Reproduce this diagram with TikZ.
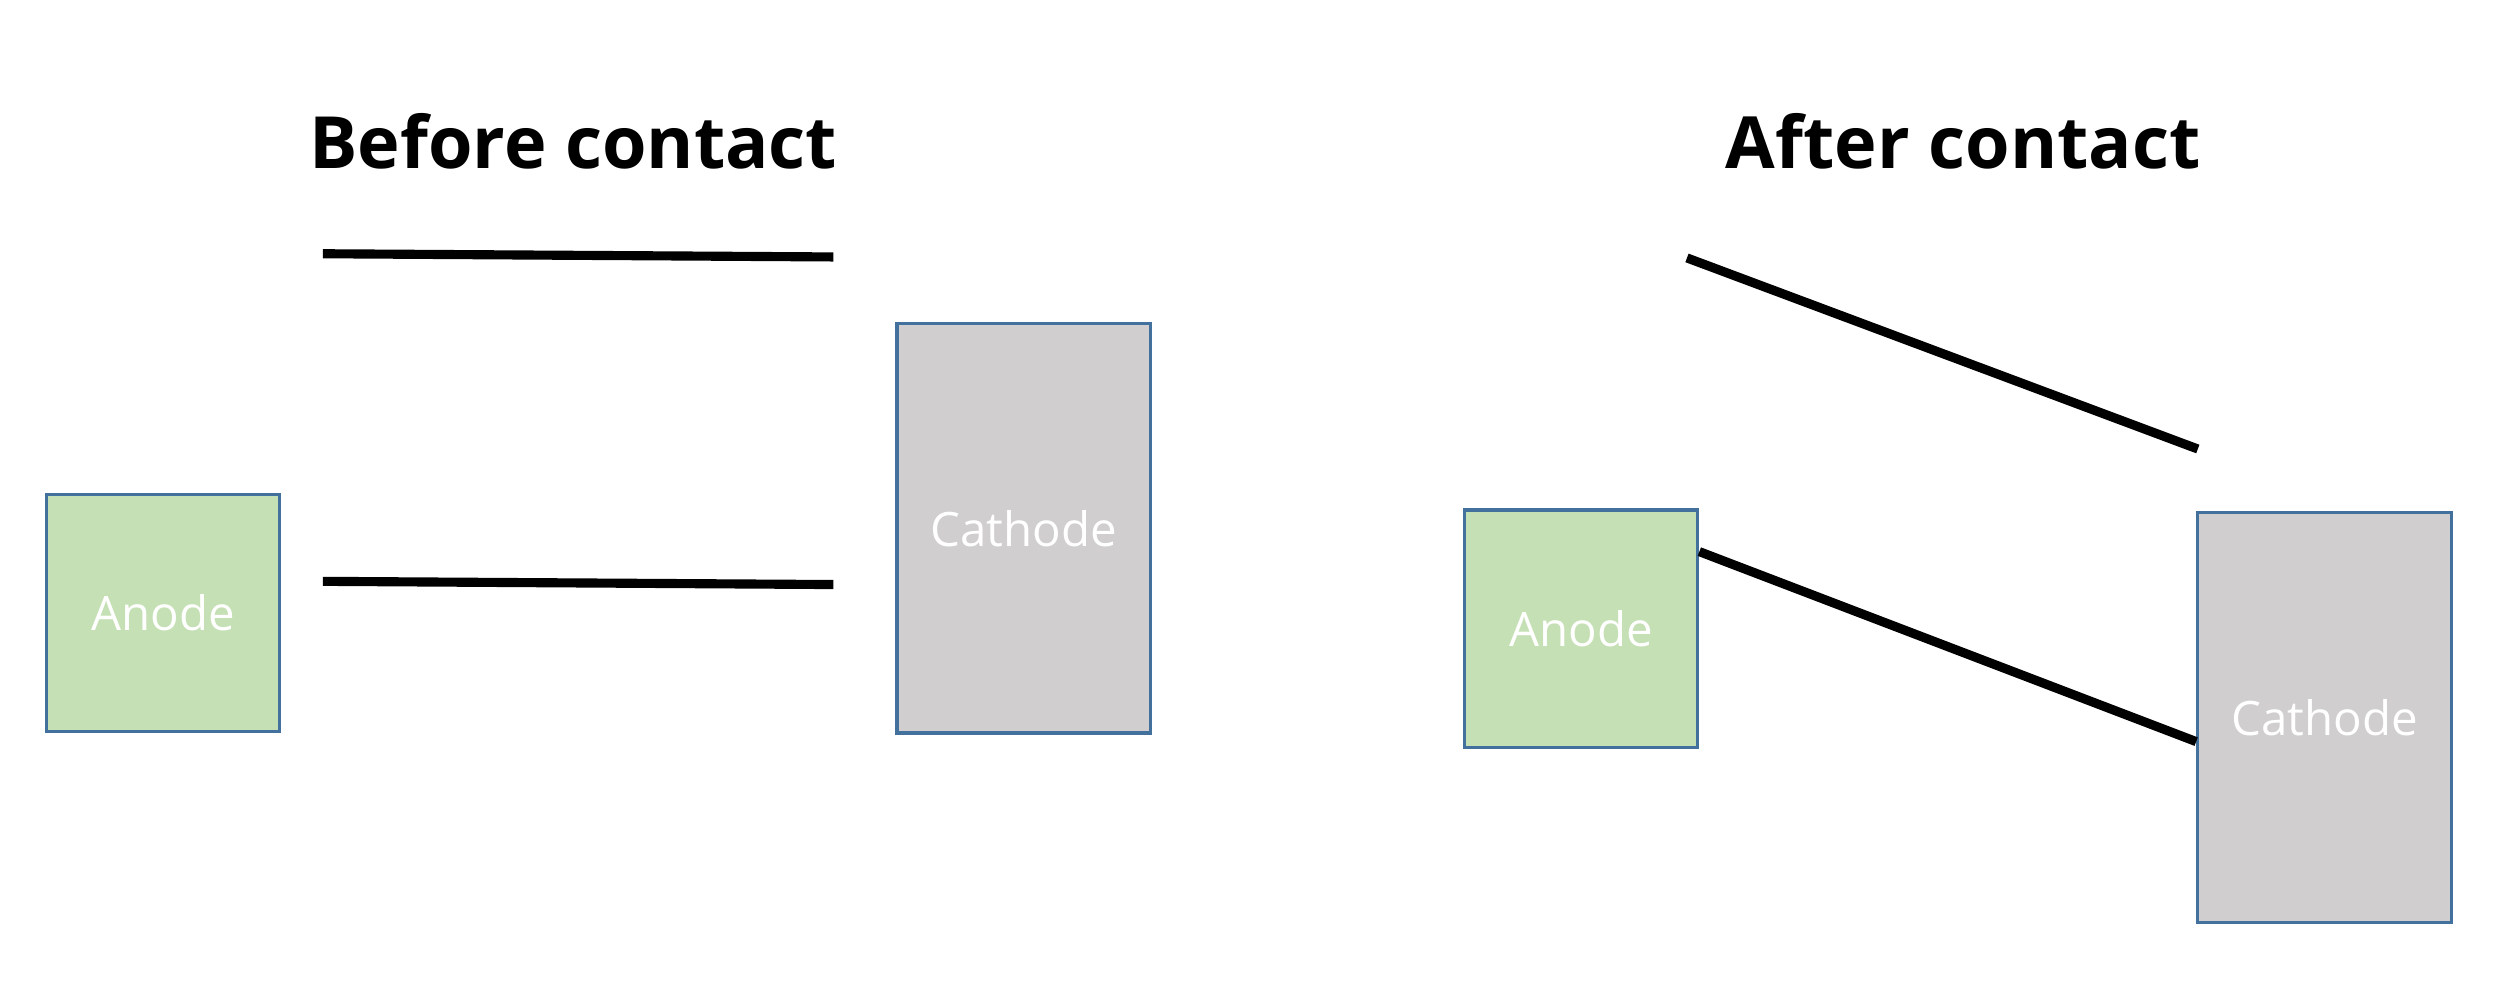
\documentclass[tikz,border=0pt]{standalone}
\usepackage{fontspec}
\setmainfont{Open Sans}
\usepackage{tikz}
\usetikzlibrary{calc}

\definecolor{anodegreen}{HTML}{C5E0B4}
\definecolor{cathodegray}{HTML}{D0CECE}
\definecolor{edgeblue}{HTML}{41719C}

\tikzset{
	electrode/.style={draw=edgeblue,line width=0.9pt,inner sep=0pt,text=white,font=\fontsize{13.5}{16}\selectfont},
	anodebox/.style={electrode,fill=anodegreen,minimum width=2.337cm,minimum height=2.377cm},
	cathodebox/.style={electrode,fill=cathodegray,minimum width=2.537cm,minimum height=4.095cm},
	level/.style={line width=2.6pt,black},
	heading/.style={font=\bfseries\fontsize{20.5}{24}\selectfont}
}

\begin{document}
\begin{tikzpicture}[x=0.01606cm,y=-0.01606cm]
			% page frame (y downwards)
			\useasboundingbox (0,0) rectangle (1568,622);
			
			% Before contact
			\node[heading] (tbefore) at (357,88) {Before contact};
			\node[anodebox] (anodeL) at (101.5,381.7) {Anode};
			\node[cathodebox] (cathodeL) at (637.5,329) {Cathode};
			
			% Energy levels, separate
			\coordinate (l1a) at (201,158);
			\coordinate (l1b) at (519,160);
			\coordinate (l2a) at (201,362);
			\coordinate (l2b) at (519,364);
			\draw[level] (l1a) -- (l1b);
			\draw[level] (l2a) -- (l2b);
			
			% After contact
			\node[heading] (tafter) at (1222.5,88) {After contact};
			\node[anodebox] (anodeR) at (984.5,391.5) {Anode};
			\node[cathodebox] (cathodeR) at (1447.5,446.8) {Cathode};
			
			% Energy levels, aligned
			\coordinate (u1) at (1050.5,160.6);
			\coordinate (u2) at (1368.6,279.6);
			\coordinate (d1) at ($(anodeR.east)+(0,-48)$);
			\coordinate (d2) at ($(cathodeR.west)+(0,15)$);
			\draw[level] (u1) -- (u2);
			\draw[level] (d1) -- (d2);
			
		\end{tikzpicture}
\end{document}
